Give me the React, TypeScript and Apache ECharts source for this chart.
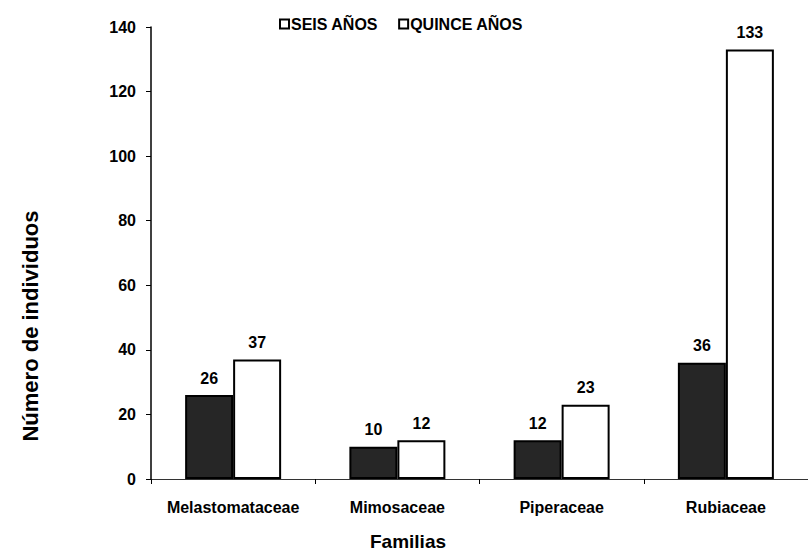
import React, { useEffect, useRef } from "react";
import * as echarts from "echarts";

const categories = ["Melastomataceae", "Mimosaceae", "Piperaceae", "Rubiaceae"];
const seisAnos = [26, 10, 12, 36];
const quinceAnos = [37, 12, 23, 133];
const seriesNames = ["SEIS AÑOS", "QUINCE AÑOS"];
const yTicks = { min: 0, max: 140, interval: 20 };

const FONT = "Arial, 'Liberation Sans', sans-serif";

export default function App() {
  const ref = useRef<HTMLDivElement>(null);
  useEffect(() => {
    if (!ref.current) return;
    const chart = echarts.init(ref.current, null, { renderer: "svg" });
    const labelStyle = {
      show: true,
      position: "top" as const,
      distance: 9,
      color: "#000",
      fontFamily: FONT,
      fontWeight: "bold" as const,
      fontSize: 16,
    };
    chart.setOption({
      animation: false,
      backgroundColor: "#fff",
      textStyle: { fontFamily: FONT },
      legend: {
        top: 11,
        left: 274,
        itemGap: 20,
        itemWidth: 9,
        itemHeight: 9,
        icon: "rect",
        textStyle: { fontFamily: FONT, fontWeight: "bold", fontSize: 16, color: "#000", padding: [0, 0, 0, -3] },
        data: seriesNames.map((n) => ({
          name: n,
          itemStyle: { color: "#fff", borderColor: "#000", borderWidth: 2 },
        })),
      },
      grid: { left: 151, top: 27, width: 665, height: 452, containLabel: false },
      xAxis: {
        type: "category",
        data: categories,
        axisLine: { lineStyle: { color: "#333", width: 1 } },
        axisTick: { show: true, length: 5, alignWithLabel: false, interval: 0, lineStyle: { color: "#000" } },
        axisLabel: {
          interval: 0,
          hideOverlap: false,
          color: "#000",
          fontFamily: FONT,
          fontWeight: "bold",
          fontSize: 16,
          margin: 20,
        },
        splitLine: { show: false },
      },
      yAxis: {
        type: "value",
        min: yTicks.min,
        max: yTicks.max,
        interval: yTicks.interval,
        axisLine: { show: true, lineStyle: { color: "#000", width: 1.5 } },
        axisTick: { show: true, length: 5, lineStyle: { color: "#000" } },
        axisLabel: { color: "#000", fontFamily: FONT, fontWeight: "bold", fontSize: 16, margin: 15 },
        splitLine: { show: false },
      },
      series: [
        {
          name: seriesNames[0],
          type: "bar",
          data: seisAnos,
          barWidth: 48,
          barGap: "0%",
          itemStyle: { color: "#262626", borderColor: "#000", borderWidth: 2 },
          label: labelStyle,
        },
        {
          name: seriesNames[1],
          type: "bar",
          data: quinceAnos,
          barWidth: 48,
          barGap: "0%",
          itemStyle: { color: "#fff", borderColor: "#000", borderWidth: 2 },
          label: labelStyle,
        },
      ],
      graphic: [
        {
          type: "text",
          x: 408,
          y: 541,
          style: {
            text: "Familias",
            font: `bold 19px ${FONT}`,
            fill: "#000",
            align: "center",
            verticalAlign: "middle",
          },
        },
        {
          type: "text",
          x: 30,
          y: 326,
          rotation: Math.PI / 2,
          style: {
            text: "Número de individuos",
            font: `bold 22px ${FONT}`,
            fill: "#000",
            align: "center",
            verticalAlign: "middle",
          },
        },
      ],
    });
    return () => chart.dispose();
  }, []);
  return <div ref={ref} style={{ width: 808, height: 553, position: "absolute", left: 0, top: 0 }} />;
}
